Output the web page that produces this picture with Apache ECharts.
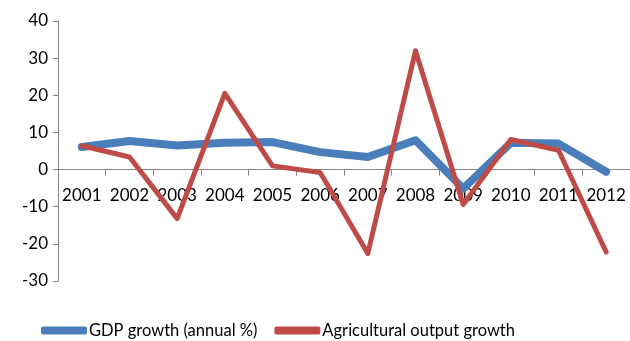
<!DOCTYPE html>
<html>
<head>
<meta charset="utf-8">
<script src="https://cdn.jsdelivr.net/npm/echarts@6/dist/echarts.min.js"></script>
<style>
  html, body { margin: 0; padding: 0; background: #fff; }
  #chart { width: 630px; height: 341px; }
</style>
</head>
<body>
<div id="chart"></div>
<script>
// values
var years = ["2001", "2002", "2003", "2004", "2005", "2006", "2007", "2008", "2009", "2010", "2011", "2012"];
var gdpGrowth = [6.1, 7.7, 6.5, 7.2, 7.4, 4.7, 3.4, 7.9, -5.1, 7.2, 7.0, -0.6];
var agriGrowth = [6.4, 3.4, -13.2, 20.5, 1.0, -0.8, -22.6, 32.0, -9.4, 8.1, 5.2, -22.2];
var yMin = -30, yMax = 40;

var FONT = "Lato, 'Open Sans', sans-serif";
var axisGray = "#868686";
var plotTop = 21, plotBottom = 60, plotH = 341 - plotTop - plotBottom;
// the category axis sits on the zero line
var zeroOffset = -plotH * (0 - yMin) / (yMax - yMin);

var chart = echarts.init(document.getElementById("chart"), null, { renderer: "canvas" });

chart.setOption({
  animation: false,
  grid: { left: 58, top: plotTop, width: 573, bottom: plotBottom },
  legend: {
    top: 317,
    left: 36,
    itemWidth: 46,
    itemHeight: 8,
    itemGap: 17,
    icon: "roundRect",
    textStyle: { fontFamily: FONT, fontSize: 16.5, color: "#000", padding: [0, 0, 0, -3] },
    data: ["GDP growth (annual %)", "Agricultural output growth"]
  },
  xAxis: {
    type: "category",
    data: years,
    boundaryGap: true,
    position: "bottom",
    offset: zeroOffset,
    axisLine: { onZero: false, lineStyle: { color: axisGray, width: 1 } },
    axisTick: { show: true, length: 6, lineStyle: { color: axisGray } },
    axisLabel: { color: "#000", fontFamily: FONT, fontSize: 17, margin: 17, interval: 0 }
  },
  yAxis: {
    type: "value",
    min: yMin,
    max: yMax,
    interval: 10,
    splitLine: { show: false },
    axisLine: { show: true, lineStyle: { color: axisGray, width: 1 } },
    axisTick: { show: true, length: 5, lineStyle: { color: axisGray } },
    axisLabel: { color: "#000", fontFamily: FONT, fontSize: 17, margin: 10 }
  },
  series: [
    {
      name: "GDP growth (annual %)",
      type: "line",
      data: gdpGrowth,
      showSymbol: false,
      symbol: "none",
      itemStyle: { color: "#4a7ebb" },
      lineStyle: { color: "#4a7ebb", width: 8, cap: "round", join: "round" }
    },
    {
      name: "Agricultural output growth",
      type: "line",
      data: agriGrowth,
      showSymbol: false,
      symbol: "none",
      itemStyle: { color: "#be4b48" },
      lineStyle: { color: "#be4b48", width: 5, cap: "round", join: "round" }
    }
  ]
});
</script>
</body>
</html>
